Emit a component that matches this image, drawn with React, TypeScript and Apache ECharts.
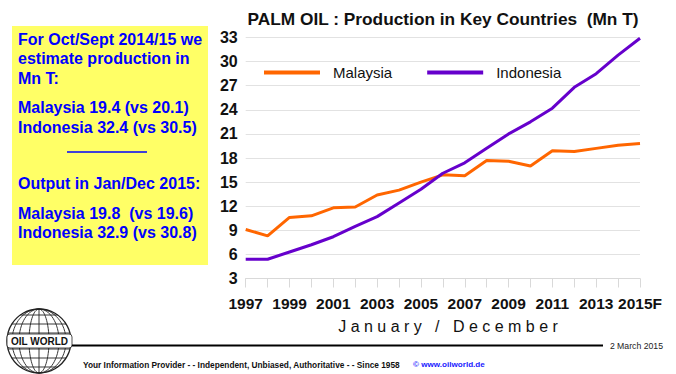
import React, { useEffect, useRef } from "react";
import * as echarts from "echarts";

const years = ["1997","1998","1999","2000","2001","2002","2003","2004","2005","2006","2007","2008","2009","2010","2011","2012","2013","2014","2015F"];
const malaysia = [9.1, 8.3, 10.6, 10.8, 11.8, 11.9, 13.4, 14.0, 15.0, 15.9, 15.8, 17.7, 17.6, 17.0, 18.9, 18.8, 19.2, 19.6, 19.8];
const indonesia = [5.4, 5.4, 6.3, 7.2, 8.2, 9.5, 10.7, 12.4, 14.1, 16.1, 17.4, 19.2, 21.0, 22.5, 24.2, 26.8, 28.5, 30.8, 32.9];
const seriesNames = ["Malaysia", "Indonesia"];
const boxLines = [
  { t: "For Oct/Sept 2014/15 we", y: 39 },
  { t: "estimate production in", y: 58.5 },
  { t: "Mn T:", y: 78 },
  { t: "Malaysia 19.4 (vs 20.1)", y: 107 },
  { t: "Indonesia 32.4 (vs 30.5)", y: 127 },
  { t: "Output in Jan/Dec 2015:", y: 183 },
  { t: "Malaysia 19.8  (vs 19.6)", y: 213 },
  { t: "Indonesia 32.9 (vs 30.8)", y: 232.5 },
];

const FONT = "Arial, 'Liberation Sans', sans-serif";

function globe(): any[] {
  const cx = 39, cy = 341, r = 32;
  const els: any[] = [];
  els.push({ type: "circle", shape: { cx, cy, r }, style: { fill: "#fff", stroke: "#222", lineWidth: 1.3 } });
  [10, 20, 27].forEach((rx) => {
    els.push({ type: "ellipse", shape: { cx, cy, rx, ry: r }, style: { fill: "none", stroke: "#222", lineWidth: 0.9 } });
  });
  els.push({ type: "line", shape: { x1: cx, y1: cy - r, x2: cx, y2: cy + r }, style: { stroke: "#222", lineWidth: 0.9 } });
  [-26, -17, -8, 8, 17, 26].forEach((dy) => {
    const hw = Math.sqrt(r * r - dy * dy);
    els.push({ type: "line", shape: { x1: cx - hw, y1: cy + dy, x2: cx + hw, y2: cy + dy }, style: { stroke: "#222", lineWidth: 0.9 } });
  });
  els.push({ type: "rect", shape: { x: 7, y: 334, width: 65, height: 14, r: 3 }, style: { fill: "#fff", stroke: "#222", lineWidth: 0.8 } });
  els.push({ type: "text", x: 39.5, y: 341.5, style: { text: "OIL WORLD", font: `bold 10px ${FONT}`, fill: "#111", align: "center", verticalAlign: "middle" } });
  return els;
}

export default function App() {
  const ref = useRef<HTMLDivElement>(null);
  useEffect(() => {
    const chart = echarts.init(ref.current!, null, { renderer: "svg" });
    chart.setOption({
      animation: false,
      backgroundColor: "#fff",
      title: {
        text: "PALM OIL : Production in Key Countries  (Mn T)",
        left: 438,
        textAlign: "center",
        top: 5,
        textStyle: { fontFamily: FONT, fontWeight: "bold", fontSize: 17.3, color: "#111" },
      },
      legend: {
        data: seriesNames,
        left: 259,
        top: 60,
        icon: "rect",
        itemWidth: 56,
        itemHeight: 4,
        itemGap: 35,
        textStyle: { fontFamily: FONT, fontSize: 15, color: "#111", padding: [0, 0, 0, 8] },
      },
      grid: { left: 245.7, right: 36, top: 37.5, bottom: 95.5 },
      xAxis: {
        type: "category",
        data: years,
        boundaryGap: false,
        axisLine: { lineStyle: { color: "#d9d9d9", width: 1 } },
        axisTick: { show: true, interval: 0, length: 9, lineStyle: { color: "#d9d9d9" } },
        axisLabel: { interval: 1, margin: 17, fontFamily: FONT, fontWeight: "bold", fontSize: 15.5, color: "#111" },
      },
      yAxis: {
        type: "value",
        min: 3,
        max: 33,
        interval: 3,
        axisLine: { show: false },
        axisTick: { show: false },
        splitLine: { lineStyle: { color: "#e2e2e2", width: 1 } },
        axisLabel: { margin: 8, fontFamily: FONT, fontWeight: "bold", fontSize: 16, color: "#111" },
      },
      series: [
        { name: seriesNames[0], type: "line", data: malaysia, symbol: "none", lineStyle: { color: "#ff6600", width: 3 }, itemStyle: { color: "#ff6600" } },
        { name: seriesNames[1], type: "line", data: indonesia, symbol: "none", lineStyle: { color: "#6600cc", width: 3 }, itemStyle: { color: "#6600cc" } },
      ],
      graphic: [
        { type: "rect", shape: { x: 12, y: 26, width: 196, height: 239 }, style: { fill: "#ffff66" } },
        ...boxLines.map((l) => ({
          type: "text", x: 18, y: l.y,
          style: { text: l.t, font: `bold 16px ${FONT}`, fill: "#0000ff", align: "left", verticalAlign: "middle" },
        })),
        { type: "line", shape: { x1: 67, y1: 152, x2: 147, y2: 152 }, style: { stroke: "#0000ff", lineWidth: 1.5 } },
        {
          type: "text", x: 448, y: 326,
          style: { text: "J a n u a r y   /   D e c e m b e r", font: `16px ${FONT}`, fill: "#111", align: "center", verticalAlign: "middle" },
        },
        ...globe(),
        { type: "line", shape: { x1: 72, y1: 345.5, x2: 603, y2: 345.5 }, style: { stroke: "#000", lineWidth: 2 } },
        { type: "text", x: 663, y: 345.5, style: { text: "2 March 2015", font: `8.7px ${FONT}`, fill: "#222", align: "right", verticalAlign: "middle" } },
        { type: "text", x: 83, y: 364.5, style: { text: "Your Information Provider - - Independent, Unbiased, Authoritative - - Since 1958", font: `bold 8.3px ${FONT}`, fill: "#111", align: "left", verticalAlign: "middle" } },
        { type: "text", x: 413, y: 364.5, style: { text: "© www.oilworld.de", font: `bold 8.1px ${FONT}`, fill: "#1a1aff", align: "left", verticalAlign: "middle" } },
      ],
    });
    return () => chart.dispose();
  }, []);
  return <div ref={ref} style={{ position: "fixed", left: 0, top: 0, width: 676, height: 374 }} />;
}
